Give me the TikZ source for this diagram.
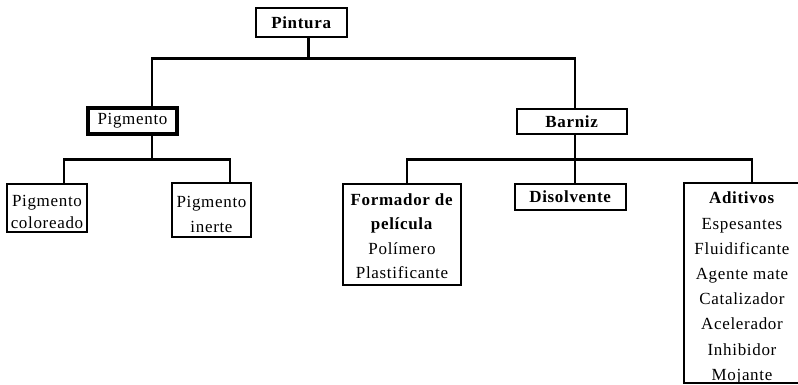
\documentclass[tikz,border=0pt]{standalone}
\usepackage{fontspec}
\setmainfont{Liberation Serif}[LetterSpace=4]
\begin{document}
\begin{tikzpicture}[x=1pt,y=-1pt,
  box/.style={draw=black,line width=2.9pt,inner sep=0pt,align=center,
    font=\fontsize{17}{24.5}\selectfont},
  txt/.style={align=center,inner sep=0pt,font=\fontsize{17}{#1}\selectfont},
  conn/.style={draw=black,line width=2.6pt}]
\useasboundingbox (0,0) rectangle (798,385);
\clip (0,0) rectangle (798,385);
\node[box,minimum width=91,minimum height=29] (pintura) at (301.5,22.5) {\textbf{Pintura}};
\node[box,minimum width=89,minimum height=26,line width=3.4pt] (pigmento) at (132.5,121) {Pigmento};
\node[box,minimum width=110,minimum height=25] (barniz) at (572,121.5) {\textbf{Barniz}};
\node[box,minimum width=80,minimum height=48,
  label={[txt=22,yshift=-3.5pt]center:Pigmento\\coloreado}] (colore) at (47,208) {};
\node[box,minimum width=79,minimum height=54,
  label={[txt=25,yshift=-4pt]center:Pigmento\\inerte}] (inerte) at (211.5,210) {};
\node[box,minimum width=118,minimum height=101,
  label={[txt=24.5,yshift=-1.5pt]center:\textbf{Formador de}\\\textbf{película}\\Polímero\\Plastificante}] (formador) at (402,234.5) {};
\node[box,minimum width=111,minimum height=26] (disolv) at (570.5,197) {\textbf{Disolvente}};
\node[box,minimum width=116,minimum height=200,
  label={[txt=25.2,yshift=-5pt]center:\textbf{Aditivos}\\Espesantes\\Fluidificante\\Agente mate\\Catalizador\\Acelerador\\Inhibidor\\Mojante}] (aditivos) at (742,283) {};
% level 1
\draw[conn] ([xshift=7pt]pintura.south) -- ++(0,20) coordinate (top);
\draw[conn] ([xshift=19.5pt]pigmento.north) |- (top) -| ([xshift=3pt]barniz.north);
% pigmento branch
\draw[conn] ([xshift=19.5pt]pigmento.south) -- ++(0,24) coordinate (pb);
\draw[conn] ([xshift=17pt]colore.north) |- (pb) -| ([xshift=18.5pt]inerte.north);
% barniz branch
\draw[conn] ([xshift=3pt]barniz.south) -- ++(0,24) coordinate (bb);
\draw[conn] ([xshift=5pt]formador.north) |- (bb) -| ([xshift=10pt]aditivos.north);
\draw[conn] (bb) -- (bb |- disolv.north);
\end{tikzpicture}
\end{document}
